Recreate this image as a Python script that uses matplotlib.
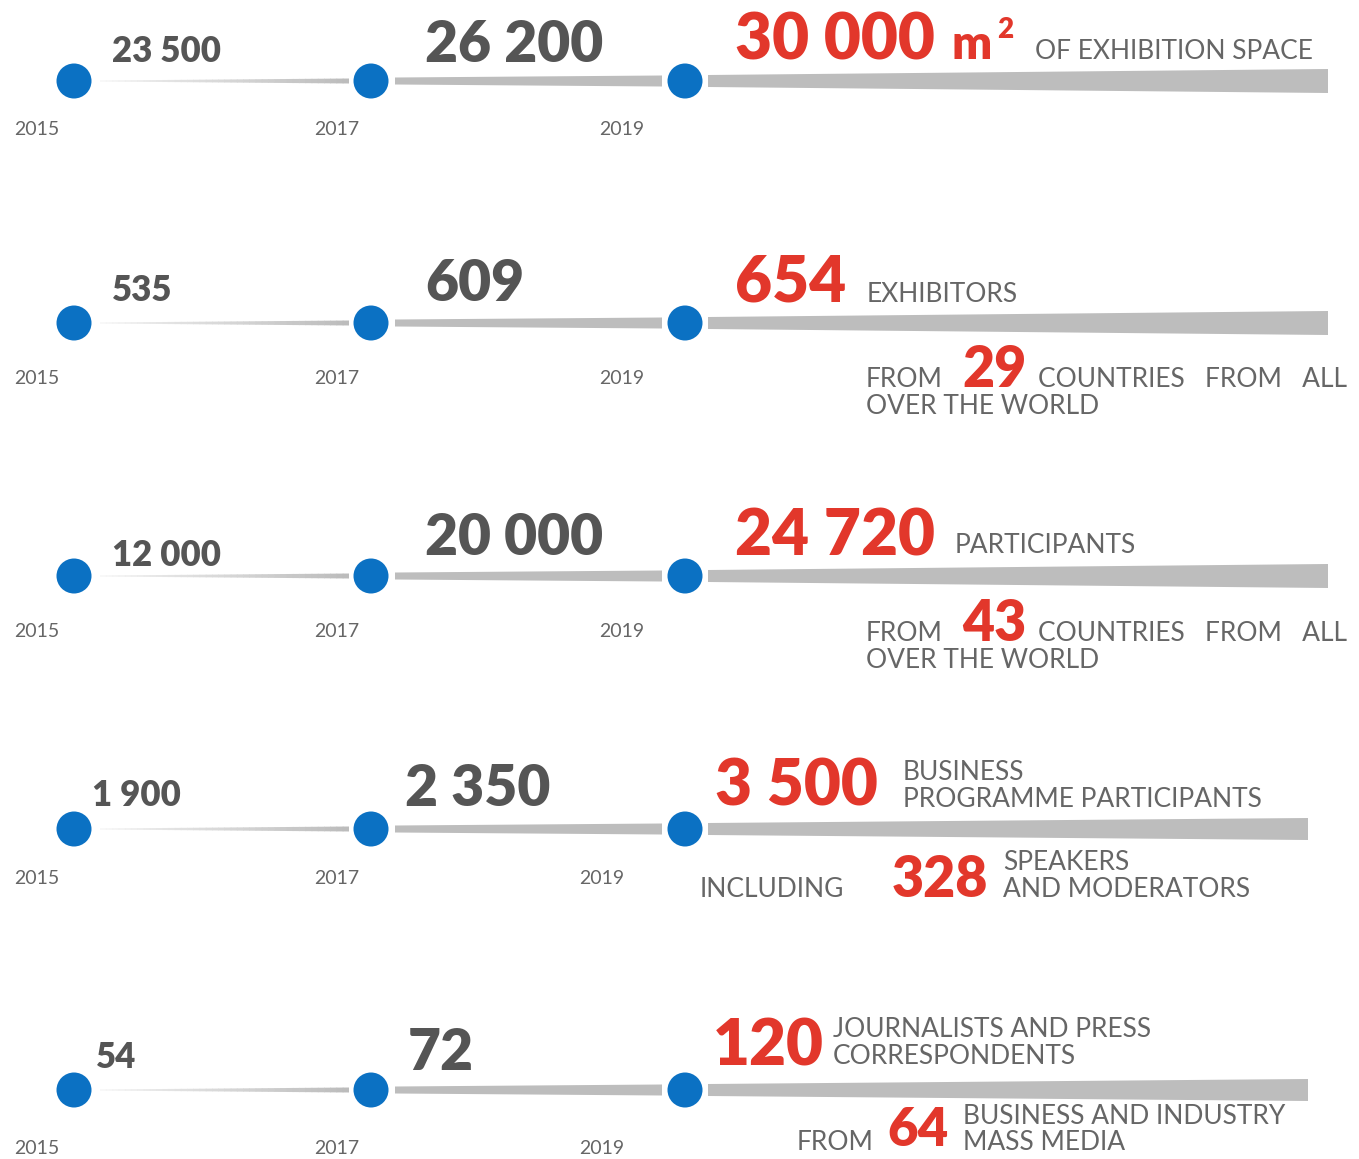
import matplotlib.pyplot as plt
from matplotlib.patches import Circle, Polygon
from matplotlib.colors import to_rgb
import numpy as np

plt.rcParams['font.family'] = ['Lato', 'DejaVu Sans']

# data
years = ['2015', '2017', '2019']
v2015 = [23500, 535, 12000, 1900, 54]
v2017 = [26200, 609, 20000, 2350, 72]
v2019 = [30000, 654, 24720, 3500, 120]
sub_numbers = [None, 29, 43, 328, 64]

GRAY_TXT = '#555555'
LIGHT_TXT = '#666666'
RED = '#e2372b'
BLUE = '#0b71c3'
BAR = '#bdbdbd'


def fmt(v):
    return f'{v:,}'.replace(',', ' ')


# layout (pixel space, y down)
W, H = 1359, 1159
row_y = [81, 323, 576, 829, 1090]
dot_x = [74, 371, 685]
dot_r = 17.5
bar3_end = [1328, 1328, 1328, 1308, 1308]
year_base = [135, 384, 637, 884, 1154]
year_x = [[37, 337, 622]] * 3 + [[37, 337, 602]] * 2
v15_pos = [(112, 62), (112, 301), (112, 566), (92, 806), (96, 1068)]
v17_pos = [(425, 62), (425, 301), (425, 555), (405, 806), (408, 1070)]
v19_pos = [(735, 59), (735, 301), (735, 555), (715, 806), (713, 1066)]

fig = plt.figure(figsize=(W / 100, H / 100), dpi=100)
ax = fig.add_axes([0, 0, 1, 1])
ax.set_xlim(0, W)
ax.set_ylim(H, 0)
ax.set_aspect('equal')
ax.axis('off')


def wedge(x0, x1, yc, t0, t1, c0, c1, n=40):
    xs = np.linspace(x0, x1, n + 1)
    ts = np.linspace(t0, t1, n + 1)
    a, b = np.array(to_rgb(c0)), np.array(to_rgb(c1))
    for i in range(n):
        f = i / max(n - 1, 1)
        col = a + (b - a) * f
        pad = 0.6 if i < n - 1 else 0
        poly = [(xs[i], yc - ts[i] / 2), (xs[i + 1] + pad, yc - ts[i + 1] / 2),
                (xs[i + 1] + pad, yc + ts[i + 1] / 2), (xs[i], yc + ts[i] / 2)]
        ax.add_patch(Polygon(poly, closed=True, facecolor=col, edgecolor='none'))


def txt(x, y, s, size, color, weight='normal'):
    ax.text(x, y, s, fontsize=size, color=color, fontweight=weight,
            ha='left', va='baseline')


NUM_W = 'heavy'
for r in range(5):
    yc = row_y[r]
    wedge(dot_x[0] + 26, dot_x[1] - 22, yc, 1.0, 5.0, '#f2f2f2', '#bcbcbc')
    wedge(dot_x[1] + 24, dot_x[2] - 23, yc, 7.0, 11.0, BAR, BAR, n=1)
    wedge(dot_x[2] + 23, bar3_end[r], yc, 12.0, 24.0 if r < 3 else 22.0, BAR, BAR, n=1)
    for k in range(3):
        ax.add_patch(Circle((dot_x[k], yc), dot_r, facecolor=BLUE, edgecolor='none', zorder=3))
        ax.text(year_x[r][k], year_base[r], years[k], fontsize=14, color=LIGHT_TXT,
                ha='center', va='baseline')
    txt(*v15_pos[r], fmt(v2015[r]), 25, GRAY_TXT, NUM_W)
    txt(*v17_pos[r], fmt(v2017[r]), 41, GRAY_TXT, NUM_W)
    txt(*v19_pos[r], fmt(v2019[r]), 46, RED, NUM_W)

CAP = 19
ALL3 = 'COUNTRIES   FROM   ALL'
# row 1
txt(952, 59, 'm', 34, RED, NUM_W)
txt(997, 38, '2', 20, RED, NUM_W)
txt(1035, 59, 'OF EXHIBITION SPACE', CAP, LIGHT_TXT)
# row 2
txt(867, 302, 'EXHIBITORS', CAP, LIGHT_TXT)
txt(866, 387, 'FROM', CAP, LIGHT_TXT)
txt(962, 387, str(sub_numbers[1]), 40, RED, NUM_W)
txt(1038, 387, ALL3, CAP, LIGHT_TXT)
txt(866, 414, 'OVER THE WORLD', CAP, LIGHT_TXT)
# row 3
txt(955, 553, 'PARTICIPANTS', CAP, LIGHT_TXT)
txt(866, 641, 'FROM', CAP, LIGHT_TXT)
txt(962, 641, str(sub_numbers[2]), 40, RED, NUM_W)
txt(1038, 641, ALL3, CAP, LIGHT_TXT)
txt(866, 668, 'OVER THE WORLD', CAP, LIGHT_TXT)
# row 4
txt(903, 780, 'BUSINESS', CAP, LIGHT_TXT)
txt(903, 807, 'PROGRAMME PARTICIPANTS', CAP, LIGHT_TXT)
txt(700, 897, 'INCLUDING', CAP, LIGHT_TXT)
txt(892, 897, str(sub_numbers[3]), 40, RED, NUM_W)
txt(1003, 870, 'SPEAKERS', CAP, LIGHT_TXT)
txt(1003, 897, 'AND MODERATORS', CAP, LIGHT_TXT)
# row 5
txt(833, 1037, 'JOURNALISTS AND PRESS', CAP, LIGHT_TXT)
txt(833, 1064, 'CORRESPONDENTS', CAP, LIGHT_TXT)
txt(797, 1150, 'FROM', CAP, LIGHT_TXT)
txt(887, 1146, str(sub_numbers[4]), 38, RED, NUM_W)
txt(963, 1124, 'BUSINESS AND INDUSTRY', CAP, LIGHT_TXT)
txt(963, 1150, 'MASS MEDIA', CAP, LIGHT_TXT)

fig.savefig('out.png', dpi=100, facecolor='white')
